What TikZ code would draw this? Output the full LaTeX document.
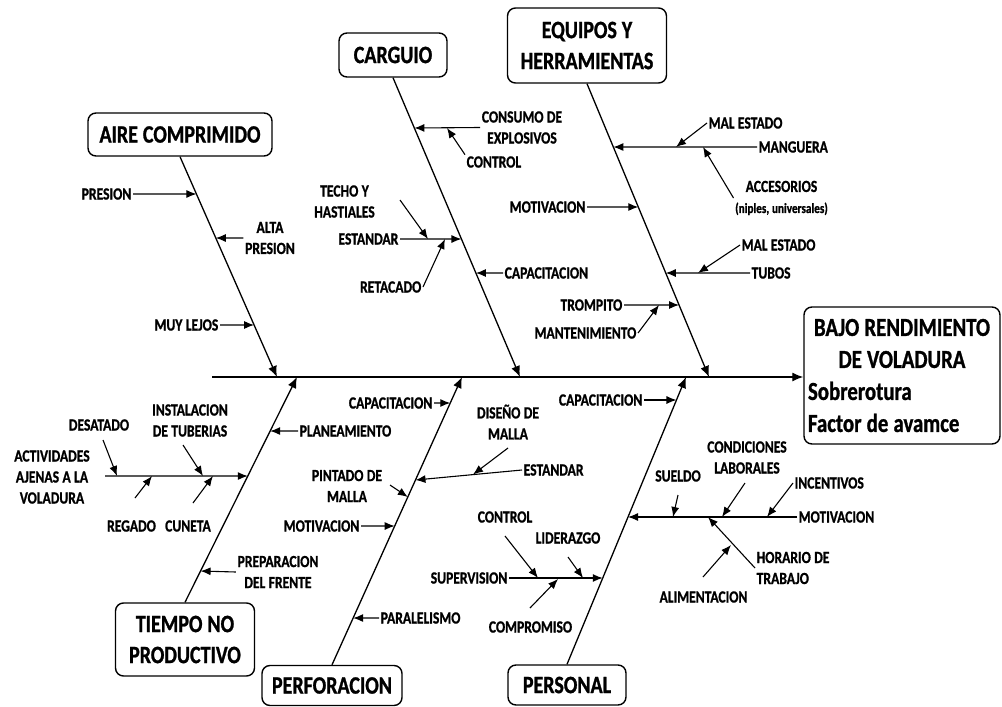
\documentclass[tikz,border=0pt]{standalone}
\usepackage{fontspec}
\newfontfamily\cf{Carlito}[FakeStretch=0.8, WordSpace=1.1, UprightFeatures={FakeBold=2.2}, BoldFeatures={FakeBold=1}]
\usetikzlibrary{arrows.meta}
\begin{document}
\begin{tikzpicture}[x=1pt,y=-1pt,
  box/.style={draw, line width=1.4pt, rounded corners=8pt, font=\cf\bfseries\fontsize{25}{31}\selectfont, align=flush center, inner sep=2pt},
  effbox/.style={draw, line width=1.4pt, rounded corners=8pt, font=\cf\bfseries\fontsize{26}{32}\selectfont, inner sep=4pt, align=flush center},
  lab/.style={font=\cf\bfseries\fontsize{17}{21}\selectfont, align=flush center, inner sep=1.5pt},
  arr/.style={-{Latex[length=10pt,width=8pt]}, line width=1.1pt},
  bone/.style={-{Latex[length=11pt,width=9pt]}, line width=1.3pt}]
\useasboundingbox (0,0) rectangle (1002,707);

% effect
\node[effbox, minimum width=196pt, minimum height=137pt, text width=188pt] (eff) at (902,375.5)
  {BAJO RENDIMIENTO\\DE VOLADURA\\\makebox[188pt][l]{Sobrerotura}\\\makebox[188pt][l]{Factor de avamce}};

% category boxes
\node[box, minimum width=184pt, minimum height=43pt] (air) at (180,134.5) {AIRE COMPRIMIDO};
\node[box, minimum width=108pt, minimum height=44pt] (carg) at (393,55) {CARGUIO};
\node[box, minimum width=159pt, minimum height=75pt] (equi) at (587,45.5) {EQUIPOS Y\\HERRAMIENTAS};
\node[box, minimum width=139pt, minimum height=73pt] (tiem) at (185,639.5) {TIEMPO NO\\PRODUCTIVO};
\node[box, minimum width=140pt, minimum height=40pt] (perf) at (332,685.5) {PERFORACION};
\node[box, minimum width=118pt, minimum height=40pt] (pers) at (567,685) {PERSONAL};

% spine
\coordinate (sp0) at (212,377);
\draw[bone] (sp0) -- (sp0 -| eff.west);

% bones
\coordinate (aE) at (277,377);
\coordinate (cE) at (520,377);
\coordinate (eE) at (709,377);
\coordinate (tE) at (297,377);
\coordinate (pE) at (462,377);
\coordinate (sE) at (686,377);
\draw[bone] (air.south) -- (aE);
\draw[bone] (carg.south) -- (cE);
\draw[bone] (equi.south) -- (eE);
\draw[bone] (tiem.north) -- (tE);
\draw[bone] (perf.north) -- (pE);
\draw[bone] (pers.north) -- (sE);

% ---------- AIRE COMPRIMIDO
\coordinate (a1) at (intersection of air.south--aE and 0,194--1000,194);
\coordinate (a2) at (intersection of air.south--aE and 0,238--1000,238);
\coordinate (a3) at (intersection of air.south--aE and 0,325--1000,325);
\node[lab, anchor=east] (presion) at (133,194) {PRESION};
\draw[arr] (presion.east) -- (a1);
\node[lab] (alta) at (270,238) {ALTA\\PRESION};
\draw[arr] (alta.west) -- (a2);
\node[lab, anchor=east] (lejos) at (220,325) {MUY LEJOS};
\draw[arr] (lejos.east) -- (a3);

% ---------- CARGUIO
\coordinate (c1) at (intersection of carg.south--cE and 0,128--1000,128);
\coordinate (c2) at (intersection of carg.south--cE and 0,239--1000,239);
\coordinate (c3) at (intersection of carg.south--cE and 0,273--1000,273);
\node[lab] (consumo) at (522,127.5) {CONSUMO DE\\EXPLOSIVOS};
\draw[arr] (consumo.west) -- (c1);
\node[lab, anchor=west] (controlc) at (465,162) {CONTROL};
\coordinate (c1b) at (447,128);
\draw[arr] (controlc.north west) -- (c1b);
\node[lab, anchor=east] (estc) at (400,239) {ESTANDAR};
\draw[arr] (estc.east) -- (c2);
\node[lab] (techo) at (344.5,201.5) {TECHO Y\\HASTIALES};
\coordinate (t0) at (400,200);
\coordinate (c2a) at (428,239);
\draw[arr] (t0) -- (c2a);
\node[lab, anchor=east] (retac) at (423,287) {RETACADO};
\coordinate (c2b) at (445,239);
\draw[arr] (retac.east) -- (c2b);
\node[lab, anchor=west] (capc) at (503,273) {CAPACITACION};
\draw[arr] (capc.west) -- (c3);

% ---------- EQUIPOS Y HERRAMIENTAS
\coordinate (e1) at (intersection of equi.south--eE and 0,147--1000,147);
\coordinate (e2) at (intersection of equi.south--eE and 0,207--1000,207);
\coordinate (e3) at (intersection of equi.south--eE and 0,273--1000,273);
\coordinate (e4) at (intersection of equi.south--eE and 0,305--1000,305);
\node[lab, anchor=west] (mang) at (757,147) {MANGUERA};
\draw[arr] (mang.west) -- (e1);
\node[lab, anchor=west] (mal1) at (707,123) {MAL ESTADO};
\coordinate (e1a) at (676,147);
\draw[arr] (mal1.west) -- (e1a);
\node[lab] (acc) at (781.5,198) {ACCESORIOS\\{\fontsize{14}{21}\selectfont (niples, universales)}};
\coordinate (e1b) at (703,147);
\draw[arr] (acc.west) -- (e1b);
\node[lab, anchor=east] (motE) at (587,207) {MOTIVACION};
\draw[arr] (motE.east) -- (e2);
\node[lab, anchor=west] (tubos) at (750,273) {TUBOS};
\draw[arr] (tubos.west) -- (e3);
\node[lab, anchor=west] (mal2) at (740,245) {MAL ESTADO};
\coordinate (e3a) at (698,273);
\draw[arr] (mal2.west) -- (e3a);
\node[lab, anchor=east] (tromp) at (624,305) {TROMPITO};
\draw[arr] (tromp.east) -- (e4);
\node[lab, anchor=east] (mant) at (638,333) {MANTENIMIENTO};
\coordinate (e4a) at (659,305);
\draw[arr] (mant.east) -- (e4a);

% ---------- TIEMPO NO PRODUCTIVO
\coordinate (t1) at (intersection of tiem.north--tE and 0,431--1000,431);
\coordinate (t2) at (intersection of tiem.north--tE and 0,476--1000,476);
\coordinate (t3) at (intersection of tiem.north--tE and 0,571--1000,571);
\node[lab, anchor=west] (plan) at (298,431) {PLANEAMIENTO};
\draw[arr] (plan.west) -- (t1);
\node[lab] (activ) at (52,477) {ACTIVIDADES\\AJENAS A LA\\VOLADURA};
\coordinate (act0) at (105,476);
\draw[arr] (act0) -- (t2);
\node[lab] (desat) at (99,425) {DESATADO};
\coordinate (d0) at (103,440);
\coordinate (d1) at (117,476);
\draw[arr] (d0) -- (d1);
\node[lab] (instal) at (190,420.5) {INSTALACION\\DE TUBERIAS};
\coordinate (i0) at (183,445);
\coordinate (i1) at (203,476);
\draw[arr] (i0) -- (i1);
\node[lab] (regado) at (131.5,526) {REGADO};
\coordinate (r0) at (135,498);
\coordinate (r1) at (152,476);
\draw[arr] (r0) -- (r1);
\node[lab] (cuneta) at (188,526) {CUNETA};
\coordinate (cu0) at (193,503);
\coordinate (cu1) at (213,476);
\draw[arr] (cu0) -- (cu1);
\node[lab] (prep) at (278,572) {PREPARACION\\DEL FRENTE};
\draw[arr] (prep.west) -- (t3);

% ---------- PERFORACION
\coordinate (p1) at (intersection of perf.north--pE and 0,403--1000,403);
\coordinate (p2) at (intersection of perf.north--pE and 0,480--1000,480);
\coordinate (p3) at (intersection of perf.north--pE and 0,497--1000,497);
\coordinate (p4) at (intersection of perf.north--pE and 0,526--1000,526);
\coordinate (p5) at (intersection of perf.north--pE and 0,618--1000,618);
\node[lab, anchor=east] (capp) at (434,403) {CAPACITACION};
\draw[arr] (capp.east) -- (p1);
\node[lab] (disen) at (508,422) {DISEÑO DE\\MALLA};
\node[lab, anchor=west] (estp) at (522,470) {ESTANDAR};
\draw[arr] (estp.west) -- (p2);
\coordinate (ds0) at (508,448);
\coordinate (ds1) at (473,474.5);
\draw[arr] (ds0) -- (ds1);
\node[lab] (pint) at (347,486) {PINTADO DE\\MALLA};
\coordinate (pi0) at (390,485);
\draw[arr] (pi0) -- (p3);
\node[lab, anchor=east] (motp) at (361,526) {MOTIVACION};
\draw[arr] (motp.east) -- (p4);
\node[lab, anchor=west] (paral) at (379,618) {PARALELISMO};
\draw[arr] (paral.west) -- (p5);

% ---------- PERSONAL
\coordinate (s1) at (intersection of pers.north--sE and 0,400--1000,400);
\coordinate (s2) at (intersection of pers.north--sE and 0,578--1000,578);
\coordinate (s3) at (intersection of pers.north--sE and 0,517--1000,517);
\node[lab, anchor=east] (caps) at (644,400) {CAPACITACION};
\draw[arr] (caps.east) -- (s1);
\node[lab, anchor=east] (superv) at (509,578) {SUPERVISION};
\draw[arr] (superv.east) -- (s2);
\node[lab] (controls) at (505,517) {CONTROL};
\coordinate (co0) at (505,536);
\coordinate (co1) at (538,578);
\draw[arr] (co0) -- (co1);
\node[lab] (lider) at (568,538) {LIDERAZGO};
\coordinate (li0) at (568,557);
\coordinate (li1) at (583,578);
\draw[arr] (li0) -- (li1);
\node[lab] (compr) at (530.5,627) {COMPROMISO};
\coordinate (cm0) at (530,608);
\coordinate (cm1) at (558,579);
\draw[arr] (cm0) -- (cm1);
\node[lab, anchor=west] (mots) at (797,517) {MOTIVACION};
\draw[arr] (mots.west) -- (s3);
\node[lab] (sueldo) at (678,476) {SUELDO};
\coordinate (su0) at (678,495);
\coordinate (su1) at (673,517);
\draw[arr] (su0) -- (su1);
\node[lab] (condic) at (747,457.5) {CONDICIONES\\LABORALES};
\coordinate (cd0) at (745,483);
\coordinate (cd1) at (722,517);
\draw[arr] (cd0) -- (cd1);
\node[lab, anchor=west] (incent) at (793,483) {INCENTIVOS};
\coordinate (in1) at (767,517);
\draw[arr] (incent.west) -- (in1);
\node[lab, anchor=west, align=flush left] (horario) at (755,568) {HORARIO DE\\TRABAJO};
\coordinate (ho1) at (708,517);
\draw[arr] (horario.west) -- (ho1);
\node[lab] (alim) at (703.5,597) {ALIMENTACION};
\coordinate (al0) at (703,577);
\coordinate (al1) at (731,545);
\draw[arr] (al0) -- (al1);
\end{tikzpicture}
\end{document}
